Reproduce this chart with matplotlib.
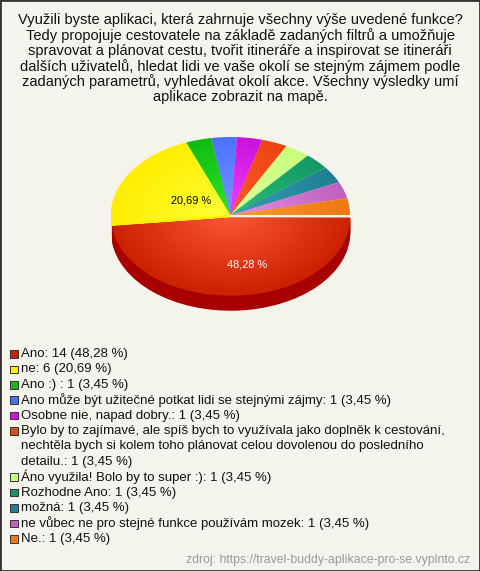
import numpy as np
import matplotlib.pyplot as plt
from matplotlib.colors import to_rgb
from matplotlib.patches import Rectangle

plt.rcParams['font.family'] = ['Liberation Sans', 'DejaVu Sans']

W, H = 480, 571

title_lines = [
    "Využili byste aplikaci, která zahrnuje všechny výše uvedené funkce?",
    "Tedy propojuje cestovatele na základě zadaných filtrů a umožňuje",
    "spravovat a plánovat cestu, tvořit itineráře a inspirovat se itineráři",
    "dalších uživatelů, hledat lidi ve vaše okolí se stejným zájmem podle",
    "zadaných parametrů, vyhledávat okolí akce. Všechny výsledky umí",
    "aplikace zobrazit na mapě.",
]

answers = [
    "Ano",
    "ne",
    "Ano :) ",
    "Ano může být užitečné potkat lidi se stejnými zájmy",
    "Osobne nie, napad dobry.",
    "Bylo by to zajímavé, ale spíš bych to využívala jako doplněk k cestování,\n"
    "nechtěla bych si kolem toho plánovat celou dovolenou do posledního\n"
    "detailu.",
    "Áno využila! Bolo by to super :)",
    "Rozhodne Ano",
    "možná",
    "ne vůbec ne pro stejné funkce používám mozek",
    "Ne.",
]
counts = [14, 6, 1, 1, 1, 1, 1, 1, 1, 1, 1]

colors = ['#cc2200', '#ffee00', '#11bb11', '#4a72ff', '#cc11dd', '#ee4411',
          '#c8ff7a', '#119966', '#1f7f94', '#c060c0', '#ee7711']
# lighter tone in the middle of each slice
highlights = ['#ff5a3c', '#ffff3a', '#2ee82e', '#7a98ff', '#ee44ff', '#ff5a28',
              '#ddffa0', '#2ec07a', '#3aa0b0', '#e890e8', '#ffa030']
side_colors = ['#a80000', '#ffee00'] + ['none'] * 9
source = "zdroj: https://travel-buddy-aplikace-pro-se.vyplnto.cz"

# geometry of the ellipse, in pixels
cx, cy = 230.5, 215.0
rx, ry = 119.5, 78.0
depth = 15.0
explode = [0.035] + [0] * 10

fig = plt.figure(figsize=(W / 100, H / 100), dpi=100, facecolor='#f4f4ec')

ax = fig.add_axes([0, 0, 1, 1])
ax.axis('off')

# 3d side
for d in np.linspace(depth / ry, 0, 16):
    ax.pie(counts, colors=side_colors, startangle=0, counterclock=False,
           explode=explode, center=(0, -d), wedgeprops=dict(linewidth=0))


def fmt(pct):
    if pct < 10:
        return ''
    return ('%.2f %%' % pct).replace('.', ',')


wedges, texts, autotexts = ax.pie(
    counts, colors=colors, startangle=0, counterclock=False, explode=explode,
    wedgeprops=dict(linewidth=0), autopct=fmt, pctdistance=0.45,
    textprops=dict(fontsize=7.9))

# radial gradient on top face
X, Y = np.meshgrid(np.linspace(-1.1, 1.1, 300), np.linspace(-1.1, 1.1, 300))
r = np.hypot(X, Y)
for w, hc in zip(wedges, highlights):
    shade = np.zeros((300, 300, 4))
    shade[..., :3] = to_rgb(hc)
    shade[..., 3] = np.clip(0.95 * (1 - r), 0, 1)
    im = ax.imshow(shade, extent=(-1.1, 1.1, -1.1, 1.1), origin='lower',
                   interpolation='bilinear', aspect='auto', zorder=w.get_zorder() + 0.1)
    im.set_clip_path(w)

autotexts[0].set_color('white')
autotexts[0].set_position((0.14, -0.6 - 0.035))
autotexts[1].set_position((-0.33, 0.19))
for t in autotexts:
    t.set_zorder(5)

ax.set_aspect('auto')
ax.set_xlim(-cx / rx, (W - cx) / rx)
ax.set_ylim(-(H - cy) / ry, cy / ry)

# title
for i, line in enumerate(title_lines):
    fig.text(240 / W, 1 - (20 + 15.5 * i) / H, line, ha='center', va='center',
             fontsize=10.5, color='#111111')

# legend
total = sum(counts)
y = 354.0
step = 15.4
for name, n, c in zip(answers, counts, colors):
    label = "%s: %d (%s %%)" % (name, n, ('%.2f' % (100 * n / total)).replace('.', ','))
    fig.patches.append(Rectangle((10 / W, 1 - (y + 3.8) / H), 7.5 / W, 7.5 / H,
                                 transform=fig.transFigure, facecolor=c,
                                 edgecolor='#333333', linewidth=0.7))
    for line in label.split('\n'):
        fig.text(21 / W, 1 - y / H, line, ha='left', va='center',
                 fontsize=9.5, color='#111111')
        y += step

fig.text(470 / W, 1 - 560 / H, source, ha='right', va='center',
         fontsize=8.8, color='#999999')

fig.patches.append(Rectangle((0, 0), 1, 1, transform=fig.transFigure,
                             fill=False, edgecolor='#333333', linewidth=2))

fig.savefig('out.png', dpi=100, facecolor=fig.get_facecolor())
